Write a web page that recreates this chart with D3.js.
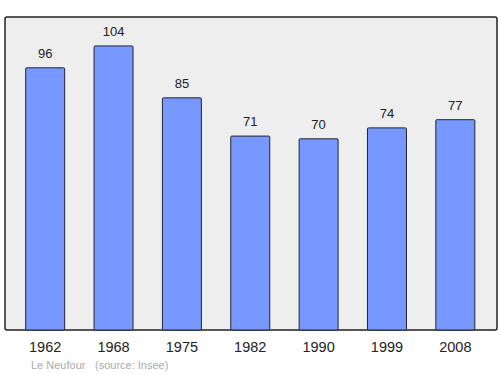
<!DOCTYPE html>
<html>
<head>
<meta charset="utf-8">
<script src="https://cdn.jsdelivr.net/npm/d3@7"></script>
<style>
  body { margin: 0; background: #fff; }
  svg { font-family: "Liberation Sans", Arial, sans-serif; }
</style>
</head>
<body>
<svg id="chart" width="500" height="374"></svg>
<script>
const years = ["1962", "1968", "1975", "1982", "1990", "1999", "2008"];
const population = [96, 104, 85, 71, 70, 74, 77];
const placeName = "Le Neufour";
const sourceText = "(source: Insee)";

const svg = d3.select("#chart");
const frame = { left: 5, top: 17, right: 497, bottom: 330 };

// plot background
svg.append("rect")
    .attr("x", frame.left)
    .attr("y", frame.top)
    .attr("width", frame.right - frame.left)
    .attr("height", frame.bottom - frame.top)
    .attr("rx", 2)
    .attr("fill", "#eeeeee")
    .attr("stroke", "#222")
    .attr("stroke-width", 1.5);

const x = d3.scaleBand()
    .domain(years)
    .range([11, 489.5])
    .paddingInner(0.43)
    .paddingOuter(0.215);

const y = d3.scaleLinear()
    .domain([0, 114.6])
    .range([frame.bottom, frame.top]);

const data = years.map((yr, i) => ({ year: yr, value: population[i] }));

svg.append("g").selectAll("rect")
    .data(data)
    .join("rect")
    .attr("x", d => x(d.year))
    .attr("y", d => y(d.value))
    .attr("width", x.bandwidth())
    .attr("height", d => y(0) - y(d.value))
    .attr("rx", 1)
    .attr("fill", "#7799ff")
    .attr("stroke", "#223")
    .attr("stroke-width", 1);

// value labels
svg.append("g").selectAll("text")
    .data(data)
    .join("text")
    .attr("x", d => x(d.year) + x.bandwidth() / 2)
    .attr("y", d => y(d.value) - 10)
    .attr("text-anchor", "middle")
    .attr("font-size", "13px")
    .attr("fill", "#222")
    .text(d => d.value);

// year axis labels
svg.append("g").selectAll("text")
    .data(years)
    .join("text")
    .attr("x", d => x(d) + x.bandwidth() / 2)
    .attr("y", 352)
    .attr("text-anchor", "middle")
    .attr("font-size", "14.5px")
    .attr("fill", "#222")
    .text(d => d);

// footer
svg.append("text")
    .attr("x", 31)
    .attr("y", 369)
    .attr("font-size", "11px")
    .attr("fill", "#aaa")
    .text(placeName);

svg.append("text")
    .attr("x", 95)
    .attr("y", 369)
    .attr("font-size", "11px")
    .attr("fill", "#aaa")
    .text(sourceText);
</script>
</body>
</html>
